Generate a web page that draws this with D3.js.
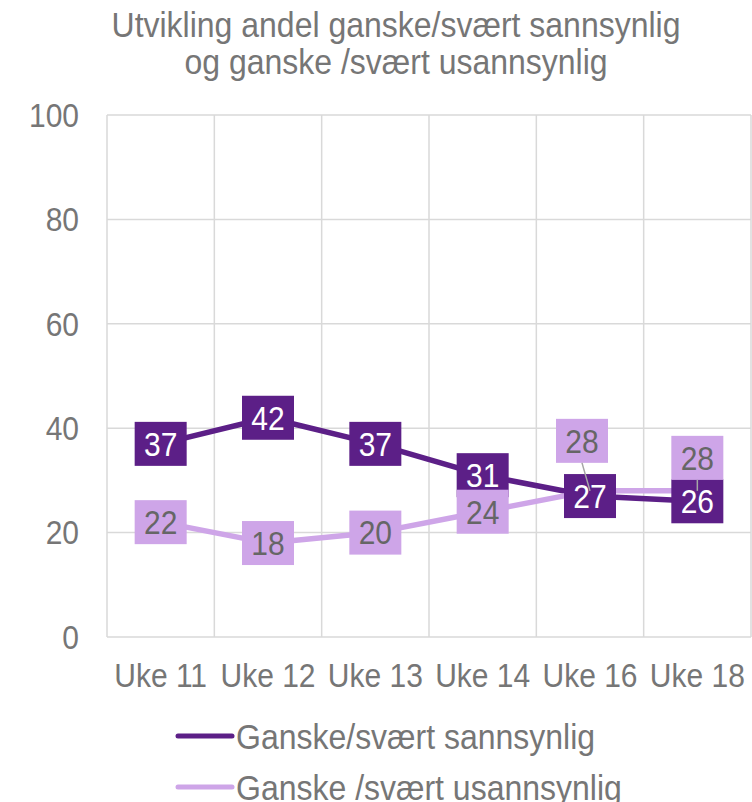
<!DOCTYPE html>
<html>
<head>
<meta charset="utf-8">
<script src="https://cdn.jsdelivr.net/npm/d3@7"></script>
<style>
  body { margin: 0; background: #fff; }
  text { font-family: "Liberation Sans", Arial, sans-serif; }
</style>
</head>
<body>
<div id="chart"></div>
<script>
// data
const categories = ["Uke 11", "Uke 12", "Uke 13", "Uke 14", "Uke 16", "Uke 18"];
const sannsynlig = [37, 42, 37, 31, 27, 26];
const usannsynlig = [22, 18, 20, 24, 28, 28];
const yTicks = [0, 20, 40, 60, 80, 100];
const seriesNames = ["Ganske/svært sannsynlig", "Ganske /svært usannsynlig"];
const titleLines = ["Utvikling andel ganske/svært sannsynlig", "og ganske /svært usannsynlig"];

let width = 752, height = 802;
let margin = { top: 115, right: 1, bottom: 165, left: 107 };

const dark = "#5c1f87", light = "#cea5e8";
const textGray = "#767676";
const stretch = 1.1;   // text in the picture is a bit taller than plain Arial

const place = (px, py) => "translate(" + px + "," + py + ") scale(1," + stretch + ")";

var svg = d3.select("#chart").append("svg")
    .attr("width", width)
    .attr("height", height);

var x = d3.scaleBand()
    .domain(categories)
    .range([margin.left, width - margin.right]);

var y = d3.scaleLinear()
    .domain([0, 100])
    .range([height - margin.bottom, margin.top]);

// title
svg.append("g").selectAll("text")
    .data(titleLines)
    .enter()
    .append("text")
    .attr("transform", (d, i) => place(396, 37 + i * 37))
    .attr("text-anchor", "middle")
    .attr("fill", textGray)
    .style("font-size", "32px")
    .text(d => d);

// grid
var grid = svg.append("g").attr("stroke", "#d9d9d9").attr("stroke-width", 1.5);
grid.selectAll("line.h")
    .data(yTicks)
    .enter()
    .append("line")
    .attr("x1", x.range()[0]).attr("x2", x.range()[1])
    .attr("y1", d => y(d)).attr("y2", d => y(d));
grid.selectAll("line.v")
    .data(categories.map(c => x(c)).concat([x.range()[1]]))
    .enter()
    .append("line")
    .attr("x1", d => d).attr("x2", d => d)
    .attr("y1", y(100)).attr("y2", y(0));

// y labels
svg.append("g").selectAll("text")
    .data(yTicks)
    .enter()
    .append("text")
    .attr("transform", d => place(79, y(d)))
    .attr("dy", "0.36em")
    .attr("text-anchor", "end")
    .attr("fill", textGray)
    .style("font-size", "30px")
    .text(d => d);

// x labels
svg.append("g").selectAll("text")
    .data(categories)
    .enter()
    .append("text")
    .attr("transform", d => place(x(d) + x.bandwidth() / 2, 687))
    .attr("text-anchor", "middle")
    .attr("fill", textGray)
    .style("font-size", "30px")
    .text(d => d);

const cx = (d, i) => x(categories[i]) + x.bandwidth() / 2;
var line = d3.line().x(cx).y(d => y(d));

svg.append("path").datum(sannsynlig)
    .attr("fill", "none").attr("stroke", dark).attr("stroke-width", 5.5)
    .attr("stroke-linejoin", "round").attr("d", line);
svg.append("path").datum(usannsynlig)
    .attr("fill", "none").attr("stroke", light).attr("stroke-width", 5.5)
    .attr("stroke-linejoin", "round").attr("d", line);

// data labels (light labels at Uke 16/18 are moved up, with leader lines)
const boxW = 52, boxH = 44;
const lightShift = { 4: [-8, -50], 5: [0, -33] };

function drawLabels(values, fill, color, shift) {
    var g = svg.append("g").selectAll("g")
        .data(values)
        .enter()
        .append("g")
        .attr("transform", (d, i) => {
            var s = shift[i] || [0, 0];
            return "translate(" + (cx(d, i) + s[0]) + "," + (y(d) + s[1]) + ")";
        });
    g.append("rect")
        .attr("x", -boxW / 2).attr("y", -boxH / 2)
        .attr("width", boxW).attr("height", boxH)
        .attr("fill", fill);
    g.append("text")
        .attr("transform", place(0, 0))
        .attr("text-anchor", "middle")
        .attr("dy", "0.36em")
        .attr("fill", color)
        .style("font-size", "30px")
        .text(d => d);
}
drawLabels(sannsynlig, dark, "#fff", {});
drawLabels(usannsynlig, light, "#666", lightShift);

// leader lines
svg.append("g").selectAll("line")
    .data(Object.keys(lightShift).map(Number))
    .enter()
    .append("line")
    .attr("x1", i => cx(usannsynlig[i], i) + lightShift[i][0])
    .attr("y1", i => y(usannsynlig[i]) + lightShift[i][1] + boxH / 2)
    .attr("x2", i => cx(usannsynlig[i], i))
    .attr("y2", i => y(usannsynlig[i]))
    .attr("stroke", "#a6a6a6")
    .attr("stroke-width", 1.5);

// legend
var legend = svg.append("g").selectAll("g")
    .data(seriesNames)
    .enter()
    .append("g")
    .attr("transform", (d, i) => "translate(0," + (736 + i * 51) + ")");
legend.append("line")
    .attr("x1", 178).attr("x2", 232)
    .attr("stroke", (d, i) => i == 0 ? dark : light)
    .attr("stroke-width", 5)
    .attr("stroke-linecap", "round");
legend.append("text")
    .attr("transform", place(236, 0))
    .attr("dy", "0.36em")
    .attr("fill", textGray)
    .style("font-size", "32px")
    .text(d => d);
</script>
</body>
</html>
